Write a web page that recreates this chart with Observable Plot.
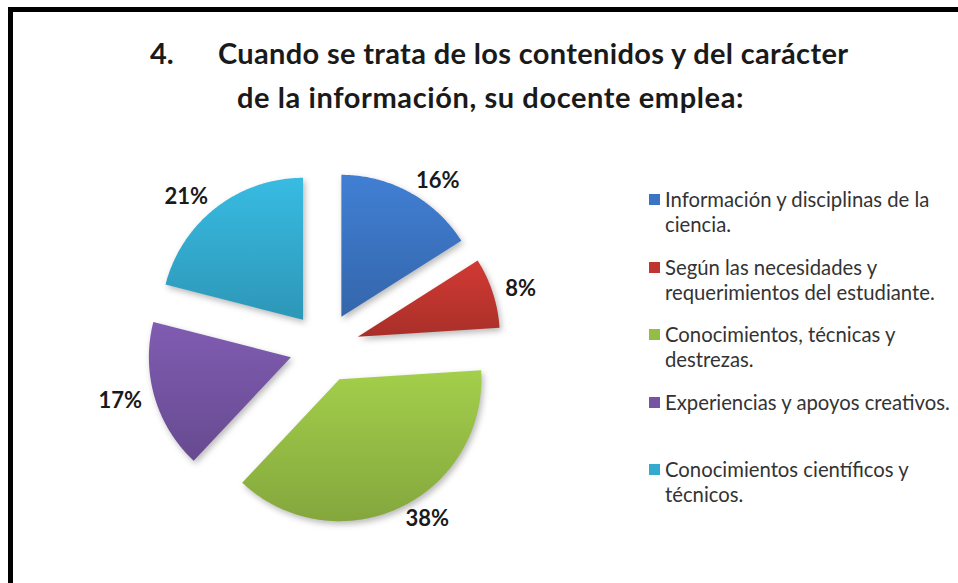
<!DOCTYPE html>
<html>
<head>
<meta charset="utf-8">
<script src="https://cdn.jsdelivr.net/npm/d3@7"></script>
<script src="https://cdn.jsdelivr.net/npm/@observablehq/plot@0.6"></script>
<style>
  html, body { margin: 0; padding: 0; background: #fff; }
  #wrap { position: relative; width: 958px; height: 583px; overflow: hidden; background: #fff; font-family: Lato, "Open Sans", sans-serif; }
  #frame { position: absolute; left: 8px; top: 7px; width: 980px; height: 600px; border-left: 5px solid #000; border-top: 5px solid #000; box-sizing: border-box; }
  .title { position: absolute; font-weight: bold; font-size: 29px; line-height: 30px; color: #1a1a1a; white-space: nowrap; }
  #chart { position: absolute; left: 0; top: 0; }
  #legend { position: absolute; left: 0; top: 0; font-size: 20.3px; color: #333; }
  .item { position: absolute; left: 649px; white-space: nowrap; line-height: 25px; }
  .sw { position: absolute; left: 0; top: 7px; width: 11px; height: 11px; }
  .txt { position: absolute; left: 16px; top: 0; }
</style>
</head>
<body>
<div id="wrap">
  <div id="frame"></div>
  <div class="title" id="num" style="left:150px; top:38px;">4.</div>
  <div class="title" id="t1" style="left:218px; top:38px;"></div>
  <div class="title" id="t2" style="left:237px; top:82px;"></div>
  <div id="chart"></div>
  <div id="legend"></div>
</div>
<script>
// ---- data ----
const categories = [
  "Información y disciplinas de la ciencia.",
  "Según las necesidades y requerimientos del estudiante.",
  "Conocimientos, técnicas y destrezas.",
  "Experiencias y apoyos creativos.",
  "Conocimientos científicos y técnicos."
];
const values = [16, 8, 38, 17, 21];
const valueLabels = ["16%", "8%", "38%", "17%", "21%"];
const legendLines = [
  ["Información y disciplinas de la", "ciencia."],
  ["Según las necesidades y", "requerimientos del estudiante."],
  ["Conocimientos, técnicas y", "destrezas."],
  ["Experiencias y apoyos creativos."],
  ["Conocimientos científicos y", "técnicos."]
];
const colors = ["#3b74c2", "#c0352f", "#95bd45", "#7554a3", "#33abcf"];
const titleLine1 = "Cuando se trata de los contenidos y del carácter";
const titleLine2 = "de la información, su docente emplea:";

// ---- layout ----
const W = 958, H = 583;
const CX = 324, CY = 347, R = 142, EXPLODE = 35, LABEL_R = 190;

// title lines, fitted to the reference widths
function fit(el, text, target) {
  el.textContent = text;
  const w = el.offsetWidth;
  el.style.letterSpacing = ((target - w) / text.length) + "px";
}
fit(document.getElementById("t1"), titleLine1, 630);
fit(document.getElementById("t2"), titleLine2, 507);

// ---- pie geometry (unit radius, y up) ----
const data = categories.map((c, i) => ({cat: c, value: values[i], label: valueLabels[i]}));
const arcs = d3.pie().sort(null).value(d => d.value)(data);
const pts = [];
const labs = [];
arcs.forEach(a => {
  const mid = (a.startAngle + a.endAngle) / 2;
  const e = EXPLODE / R;
  const ox = e * Math.sin(mid), oy = e * Math.cos(mid);
  pts.push({cat: a.data.cat, x: ox, y: oy});
  const n = Math.max(4, Math.ceil((a.endAngle - a.startAngle) / 0.01));
  for (let k = 0; k <= n; k++) {
    const t = a.startAngle + (a.endAngle - a.startAngle) * k / n;
    pts.push({cat: a.data.cat, x: ox + Math.sin(t), y: oy + Math.cos(t)});
  }
  const lr = LABEL_R / R;
  labs.push({label: a.data.label, x: lr * Math.sin(mid), y: lr * Math.cos(mid), right: Math.sin(mid) >= 0});
});

const gradIds = colors.map((c, i) => "url(#sliceGrad" + i + ")");

const svg = Plot.plot({
  width: W,
  height: H,
  margin: 0,
  style: {background: "transparent", overflow: "visible"},
  x: {domain: [-CX / R, (W - CX) / R], axis: null},
  y: {domain: [-(H - CY) / R, CY / R], axis: null},
  color: {domain: categories, range: gradIds},
  marks: [
    Plot.line(pts, {x: "x", y: "y", z: "cat", fill: "cat", stroke: "none", curve: "linear"}),
    Plot.text(labs.filter(d => d.right), {x: "x", y: "y", text: "label", textAnchor: "start", fontSize: 22, fontWeight: "bold", fill: "#1a1a1a", fontFamily: "Lato, sans-serif"}),
    Plot.text(labs.filter(d => !d.right), {x: "x", y: "y", text: "label", textAnchor: "end", fontSize: 22, fontWeight: "bold", fill: "#1a1a1a", fontFamily: "Lato, sans-serif"})
  ]
});

// gradients for the slices
const defs = d3.select(svg).insert("defs", ":first-child");
colors.forEach((c, i) => {
  const g = defs.append("linearGradient").attr("id", "sliceGrad" + i)
    .attr("x1", 0).attr("y1", 0).attr("x2", 0).attr("y2", 1);
  g.append("stop").attr("offset", "0%").attr("stop-color", d3.color(c).brighter(0.25).formatHex());
  g.append("stop").attr("offset", "100%").attr("stop-color", d3.color(c).darker(0.35).formatHex());
});
const lineG = svg.querySelector('g[aria-label="line"]');
if (lineG) lineG.style.filter = "drop-shadow(2px 3px 3px rgba(0,0,0,0.28))";
document.getElementById("chart").appendChild(svg);

// ---- legend ----
const legend = document.getElementById("legend");
legendLines.forEach((lines, i) => {
  const item = document.createElement("div");
  item.className = "item";
  item.style.top = (187 + i * 67.5) + "px";
  const sw = document.createElement("div");
  sw.className = "sw";
  sw.style.background = colors[i];
  const txt = document.createElement("div");
  txt.className = "txt";
  txt.innerHTML = lines.join("<br>");
  item.appendChild(sw);
  item.appendChild(txt);
  legend.appendChild(item);
});
</script>
</body>
</html>
